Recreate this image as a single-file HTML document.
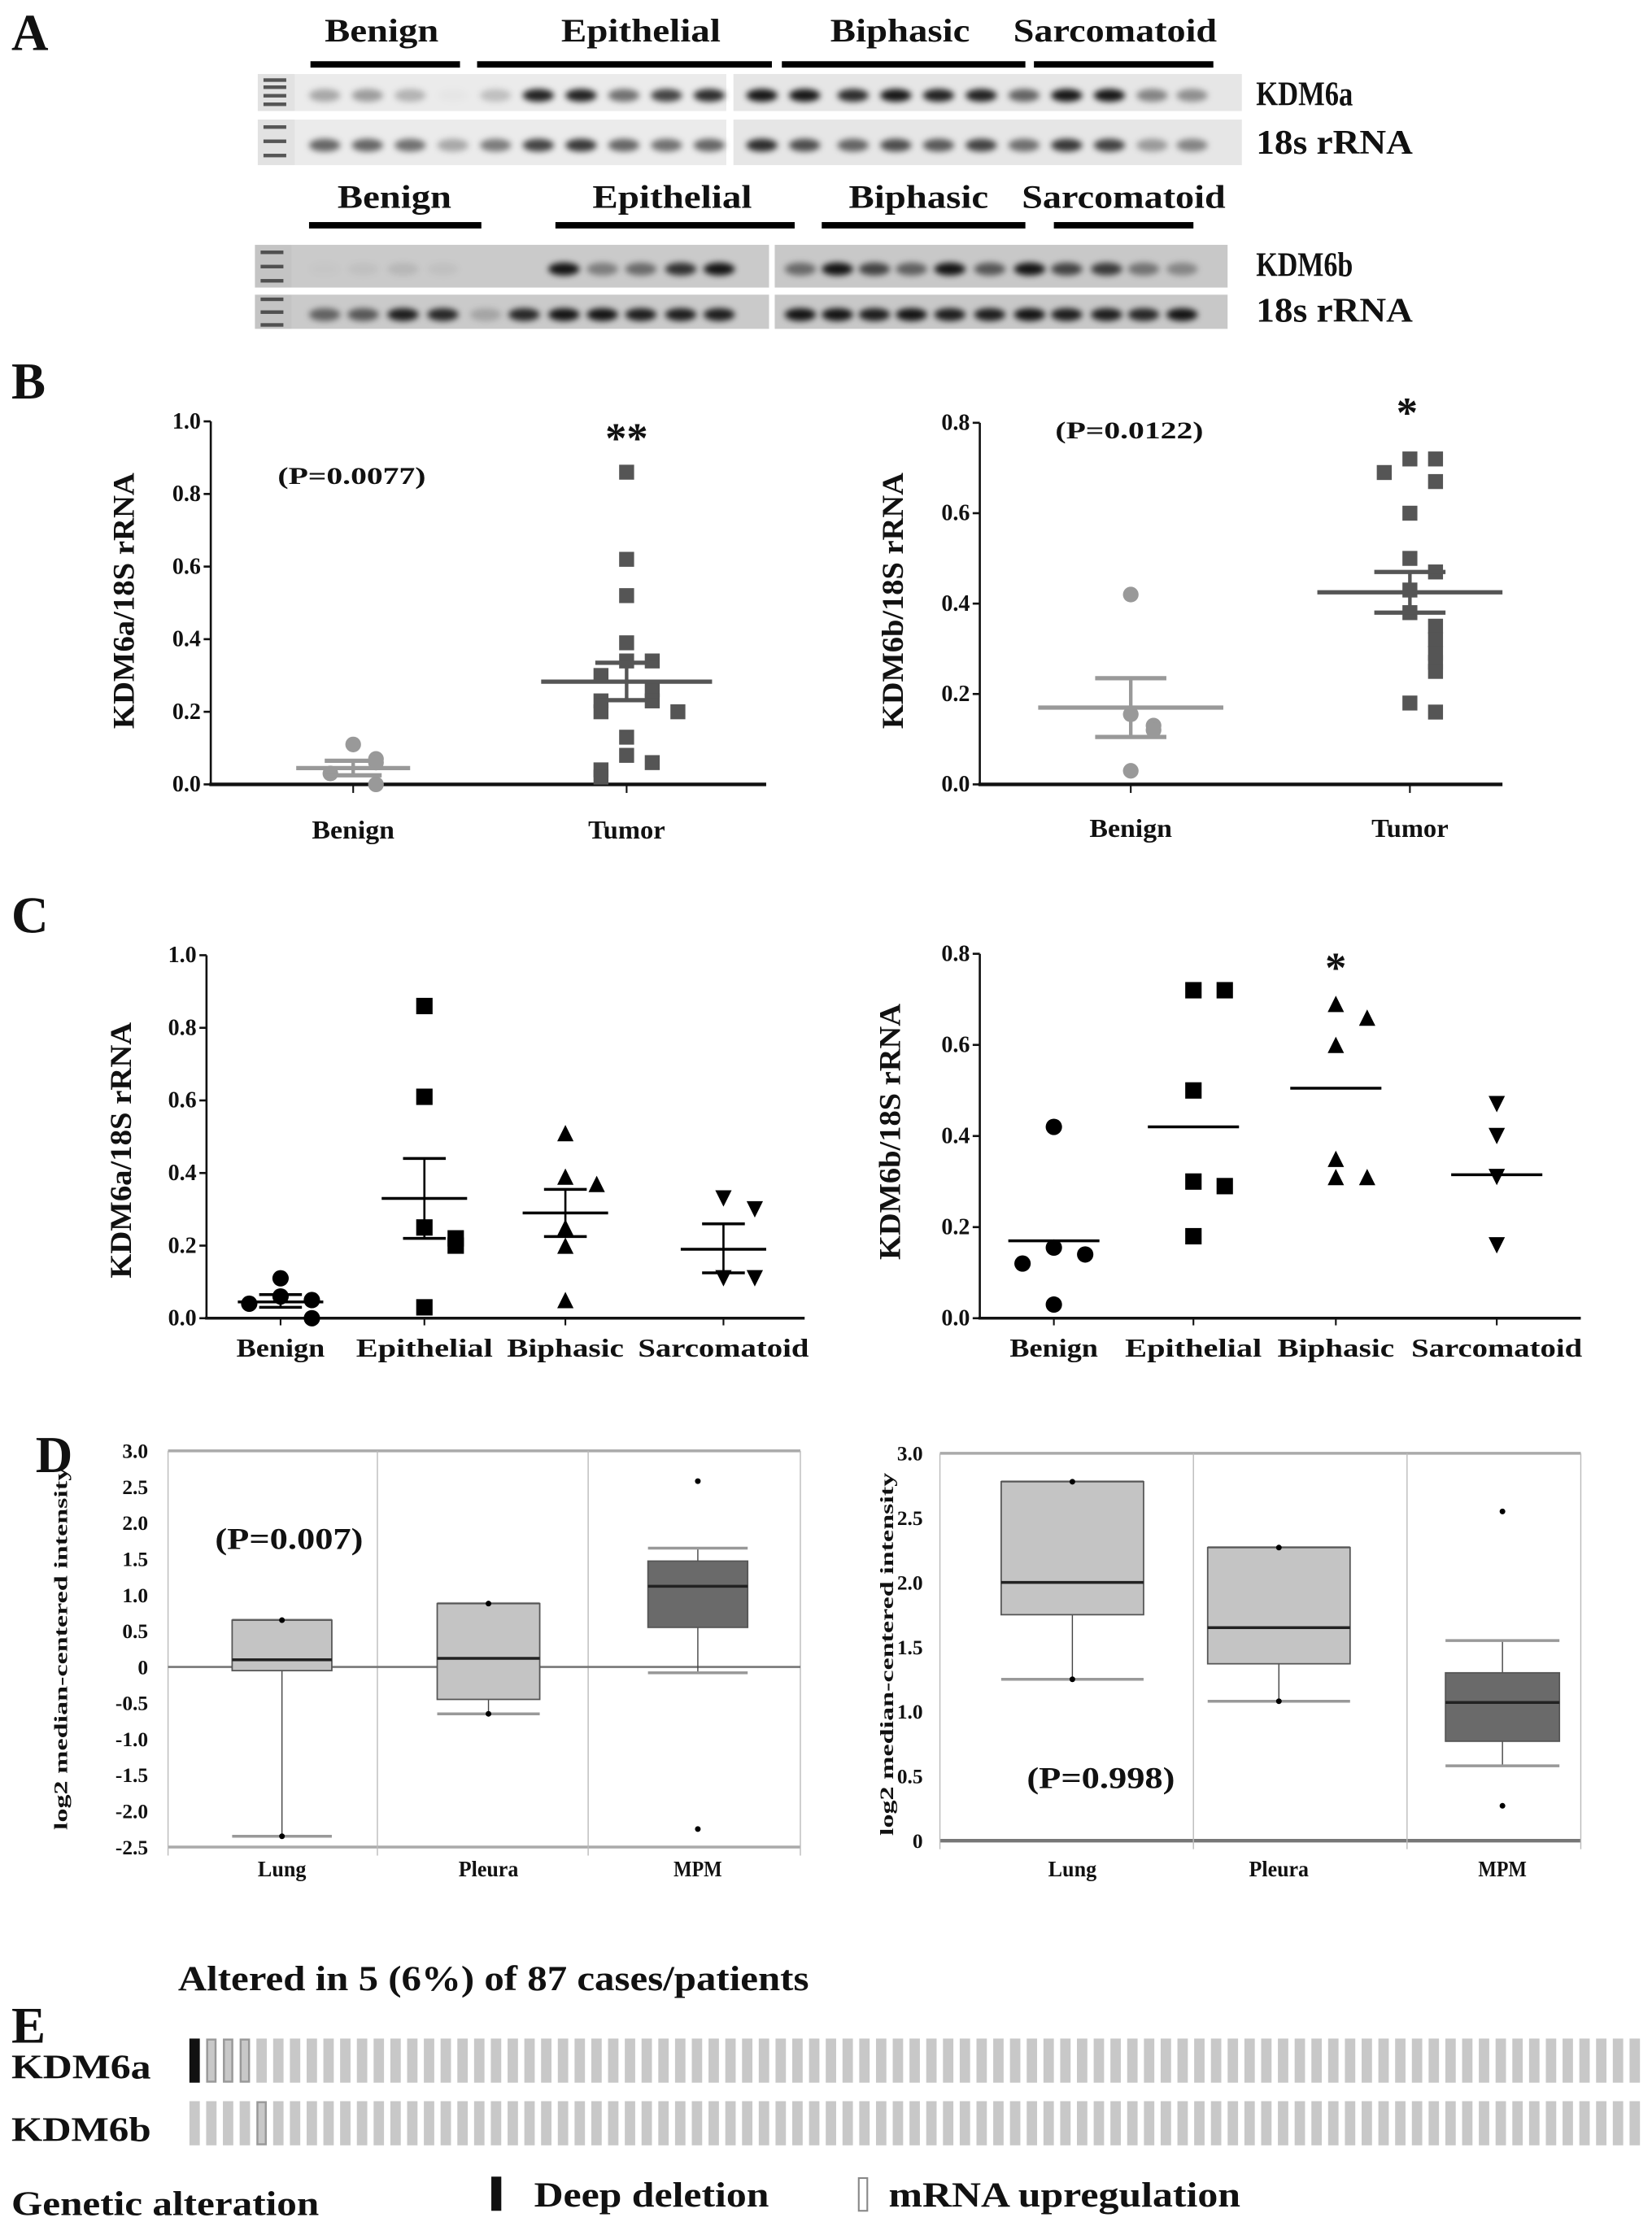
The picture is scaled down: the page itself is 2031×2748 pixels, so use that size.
<!DOCTYPE html>
<html><head><meta charset="utf-8"><style>
html,body{margin:0;padding:0;background:#fff}
svg{display:block}
text{font-family:"Liberation Serif",serif;font-weight:bold;fill:#111}
</style></head><body>
<svg id="fig" xmlns="http://www.w3.org/2000/svg" width="2031" height="2748" viewBox="0 0 1160 1570" preserveAspectRatio="none">
<defs><filter id="blur" x="-50%" y="-100%" width="200%" height="300%"><feGaussianBlur stdDeviation="2.2"/></filter></defs>
</svg>
<script>
// ---------- DATA ----------
const gelA_KDM6a_left=[0.3,0.35,0.25,0.02,0.2,0.9,0.9,0.55,0.75,0.85];
const gelA_KDM6a_right=[0.95,0.95,0.85,0.95,0.9,0.9,0.6,0.95,0.95,0.45,0.4];
const gelA_18s_left=[0.6,0.6,0.55,0.3,0.5,0.75,0.8,0.6,0.55,0.6];
const gelA_18s_right=[0.85,0.7,0.6,0.7,0.65,0.75,0.55,0.8,0.75,0.35,0.45];
const gelB_KDM6b_left=[0.02,0.05,0.1,0.05,0,0,0.95,0.4,0.5,0.8,0.95];
const gelB_KDM6b_right=[0.5,0.95,0.7,0.55,0.95,0.6,0.95,0.7,0.75,0.45,0.35];
const gelB_18s_left=[0.55,0.6,0.9,0.85,0.2,0.85,0.95,0.95,0.9,0.9,0.9];
const gelB_18s_right=[0.95,0.95,0.9,0.95,0.9,0.9,0.95,0.9,0.9,0.85,0.95];
const bTicksA=[0,0.2,0.4,0.6,0.8,1.0];
const bBenignA=[0.11,0.07,0.06,0.03,0.0];
const bTumorA=[0.86,0.62,0.52,0.39,0.34,0.34,0.30,0.26,0.23,0.23,0.20,0.20,0.13,0.08,0.06,0.04,0.02];
const bStatsBenignA=[0.045,0.065,0.025];
const bStatsTumorA=[0.283,0.335,0.232];
const bTicksB=[0,0.2,0.4,0.6,0.8];
const bBenignB=[0.42,0.155,0.13,0.12,0.03];
const bTumorB=[0.72,0.72,0.69,0.67,0.60,0.50,0.47,0.43,0.38,0.35,0.32,0.29,0.27,0.25,0.18,0.16];
const bStatsBenignB=[0.17,0.235,0.105];
const bStatsTumorB=[0.425,0.47,0.38];
const cCats=["Benign","Epithelial","Biphasic","Sarcomatoid"];
const cA_benign=[0.11,0.06,0.05,0.04,0.0];
const cA_epi=[0.86,0.61,0.25,0.22,0.20,0.03];
const cA_bi=[0.51,0.39,0.37,0.25,0.20,0.05];
const cA_sar=[0.33,0.30,0.11,0.11];
const cA_mean=[0.045,0.33,0.29,0.19];
const cA_hi=[0.065,0.44,0.355,0.26];
const cA_lo=[0.03,0.22,0.225,0.125];
const cB_benign=[0.42,0.155,0.14,0.12,0.03];
const cB_epi=[0.72,0.72,0.50,0.30,0.29,0.18];
const cB_bi=[0.69,0.66,0.60,0.35,0.31,0.31];
const cB_sar=[0.47,0.40,0.31,0.16];
const cB_mean=[0.17,0.42,0.505,0.315];
const dCats=["Lung","Pleura","MPM"];
const dTicksA=["3.0","2.5","2.0","1.5","1.0","0.5","0","-0.5","-1.0","-1.5","-2.0","-2.5"];
const dTickValsA=[3,2.5,2,1.5,1,0.5,0,-0.5,-1,-1.5,-2,-2.5];
const dA_q1=[-0.05,-0.45,0.55], dA_med=[0.1,0.12,1.12], dA_q3=[0.65,0.88,1.47], dA_lo=[-2.35,-0.65,-0.08], dA_hi=[0.65,0.88,1.65];
const dA_out=[[0.65,-2.35],[0.88,-0.65],[2.58,-2.25]];
const dTicksB=["3.0","2.5","2.0","1.5","1.0","0.5","0"];
const dTickValsB=[3,2.5,2,1.5,1,0.5,0];
const dB_q1=[1.75,1.37,0.77], dB_med=[2.0,1.65,1.07], dB_q3=[2.78,2.27,1.3], dB_lo=[1.25,1.08,0.58], dB_hi=[2.78,2.27,1.55];
const dB_out=[[2.78,1.25],[2.27,1.08],[2.55,0.27]];
const eKDM6a=[1,2,2,2];
const eKDM6b=[0,0,0,0,2];
const eCases=87;

// ---------- HELPERS ----------
const NS="http://www.w3.org/2000/svg";
const svg=document.getElementById('fig');
function el(tag,attrs,parent){const e=document.createElementNS(NS,tag);for(const k in attrs)e.setAttribute(k,attrs[k]);(parent||svg).appendChild(e);return e;}
function txt(x,y,s,size,anchor,len,g){const t=el('text',{x:x,y:y,'font-size':size,'text-anchor':anchor||'start'},g);if(len){t.setAttribute('textLength',len);t.setAttribute('lengthAdjust','spacingAndGlyphs');}t.textContent=s;return t;}

// ---------- PANEL A ----------
const gA=el('g',{});


let t=txt(8,35,'A',36,'start',26,gA);


function groupLabels(labels,cx,y,lens,bars,by){
  labels.forEach((s,i)=>{const l=txt(cx[i],y,s,23,'middle',lens[i],gA);});
  bars.forEach(b=>{const r=el('rect',{x:b[0],y:by,width:b[1]-b[0],height:4.5,fill:'#000'},gA);});
}
groupLabels(['Benign','Epithelial','Biphasic','Sarcomatoid'],[268,450,632,783],29,[80,112,98,143],[[218,323],[335,542],[549,720],[726,852]],43);
groupLabels(['Benign','Epithelial','Biphasic','Sarcomatoid'],[277,472,645,789],146,[80,112,98,143],[[217,338],[390,558],[577,720],[740,838]],156);
function gel(x0,x1,y0,y1,bg,lanes,vals,name){
  const r=el('rect',{x:x0,y:y0,width:x1-x0,height:y1-y0,fill:bg},gA);
  
  
  const yc=(y0+y1)/2+2;
  vals.forEach((v,i)=>{const b=el('ellipse',{cx:lanes[i],cy:yc,rx:11,ry:4.5,fill:'#000','fill-opacity':Math.min(1,v*0.95),filter:'url(#blur)'},gA);});
}
function ladder(x,y0,y1,bg,ys){const r=el('rect',{x:x,y:y0,width:26,height:y1-y0,fill:bg},gA);ys.forEach(yy=>{const b=el('rect',{x:x+4,y:yy,width:16,height:2.5,fill:'#333','fill-opacity':0.8},gA);});}
const lanesAL=[228,258,288,318,348,378,408,438,468,498], lanesAR=[535,565,599,629,659,689,719,749,779,809,837];
ladder(181,52,78,'#e2e2e2',[55,60,66,72]);
gel(207,510,52,78,'#ebebeb',lanesAL,gelA_KDM6a_left,'kdm6a-gel-left');
gel(515,872,52,78,'#e6e6e6',lanesAR,gelA_KDM6a_right,'kdm6a-gel-right');
ladder(181,84,116,'#e2e2e2',[88,98,108]);
gel(207,510,84,116,'#ebebeb',lanesAL,gelA_18s_left,'18s-gel-a-left');
gel(515,872,84,116,'#e6e6e6',lanesAR,gelA_18s_right,'18s-gel-a-right');
const lanesBR=[562,588,614,640,667,695,723,749,777,803,830];
const lanesBL=[228,255,283,311,341,368,396,423,450,478,505];
ladder(179,172,202,'#c4c4c4',[176,186,196]);
gel(205,540,172,202,'#cacaca',lanesBL,gelB_KDM6b_left,'kdm6b-gel-left');
gel(544,862,172,202,'#c8c8c8',lanesBR,gelB_KDM6b_right,'kdm6b-gel-right');
ladder(179,207,231,'#c4c4c4',[209,218,227]);
gel(205,540,207,231,'#cacaca',lanesBL,gelB_18s_left,'18s-gel-b-left');
gel(544,862,207,231,'#c8c8c8',lanesBR,gelB_18s_right,'18s-gel-b-right');
[['KDM6a',74,68],['18s rRNA',108,110],['KDM6b',194,68],['18s rRNA',226,110]].forEach(a=>{const l=txt(882,a[1],a[0],24,'start',a[2],gA);});

// ---------- SCATTER HELPERS ----------
function axisY(g,x,yfn,ticks,fmt,size){
  const top=yfn(ticks[ticks.length-1]),bot=yfn(ticks[0]);
  const a=el('line',{x1:x,y1:top,x2:x,y2:bot,stroke:'#111','stroke-width':1.5},g);
  
  ticks.forEach(v=>{el('line',{x1:x-5,y1:yfn(v),x2:x,y2:yfn(v),stroke:'#111','stroke-width':1.5},g);const l=txt(x-7,yfn(v)+5,fmt(v),size,'end',null,g);});
}
function marker(g,shape,x,y,s,fill){
  let m;
  if(shape==='circle')m=el('circle',{cx:x,cy:y,r:s/2,fill:fill},g);
  else if(shape==='square')m=el('rect',{x:x-s/2,y:y-s/2,width:s,height:s,fill:fill},g);
  else if(shape==='tri')m=el('polygon',{points:`${x},${y-s/2} ${x-s/2},${y+s/2} ${x+s/2},${y+s/2}`,fill:fill},g);
  else m=el('polygon',{points:`${x},${y+s/2} ${x-s/2},${y-s/2} ${x+s/2},${y-s/2}`,fill:fill},g);
  
  
}
function scatter(g,vals,cx,yfn,shape,s,fill,step){
  const placed=[];
  vals.forEach(v=>{
    const near=placed.filter(p=>Math.abs(p-yfn(v))<s).length;
    const off=near===0?0:(near%2?1:-1)*Math.ceil(near/2)*step;
    placed.push(yfn(v));
    marker(g,shape,cx+off,yfn(v),s,fill);
  });
}
function meanSem(g,cx,yfn,m,hi,lo,w,ws,col,sw){
  const a=el('line',{x1:cx-w,y1:yfn(m),x2:cx+w,y2:yfn(m),stroke:col,'stroke-width':sw},g);
  
  if(hi!=null){
    el('line',{x1:cx,y1:yfn(hi),x2:cx,y2:yfn(lo),stroke:col,'stroke-width':sw-0.5},g);
    [hi,lo].forEach(v=>{const e=el('line',{x1:cx-ws,y1:yfn(v),x2:cx+ws,y2:yfn(v),stroke:col,'stroke-width':sw},g);});
  }
}
function yTitle(g,x,y,s,size,len){const l=el('text',{x:0,y:0,'font-size':size,'text-anchor':'middle',transform:`translate(${x},${y}) rotate(-90)`,textLength:len,lengthAdjust:'spacingAndGlyphs'},g);l.textContent=s;}
function xLabel(g,x,y,s,size,len){const l=txt(x,y,s,size,'middle',len,g);}

// ---------- PANEL B ----------
const gB=el('g',{});


t=txt(8,280,'B',36,'start',24,gB);


{
  const yA=v=>551-v*255, yB=v=>551-v*317.5;
  const fmt=v=>v.toFixed(1);
  axisY(gB,148,yA,bTicksA,fmt,16);
  let ax=el('line',{x1:147,y1:551,x2:538,y2:551,stroke:'#111','stroke-width':2.5},gB);
  [248,440].forEach(x=>el('line',{x1:x,y1:551,x2:x,y2:557,stroke:'#111','stroke-width':1.2},gB));
  xLabel(gB,248,589,'Benign',18,58);xLabel(gB,440,589,'Tumor',18,54);
  yTitle(gB,94,422,'KDM6a/18S rRNA',21,180);
  t=txt(247,340,'(P=0.0077)',17,'middle',104,gB);
  t=txt(440,318,'**',30,'middle',null,gB);
  scatter(gB,bBenignA,248,yA,'circle',11,'#999',16);
  scatter(gB,bTumorA,440,yA,'square',10.5,'#555',18);
  meanSem(gB,248,yA,bStatsBenignA[0],bStatsBenignA[1],bStatsBenignA[2],40,20,'#999',3);
  meanSem(gB,440,yA,bStatsTumorA[0],bStatsTumorA[1],bStatsTumorA[2],60,22,'#555',3);

  axisY(gB,688,yB,bTicksB,fmt,16);
  ax=el('line',{x1:687,y1:551,x2:1055,y2:551,stroke:'#111','stroke-width':2.5},gB);
  [794,990].forEach(x=>el('line',{x1:x,y1:551,x2:x,y2:557,stroke:'#111','stroke-width':1.2},gB));
  xLabel(gB,794,588,'Benign',18,58);xLabel(gB,990,588,'Tumor',18,54);
  yTitle(gB,634,422,'KDM6b/18S rRNA',21,180);
  t=txt(793,308,'(P=0.0122)',17,'middle',104,gB);
  t=txt(988,300,'*',30,'middle',null,gB);
  scatter(gB,bBenignB,794,yB,'circle',11,'#999',16);
  scatter(gB,bTumorB,990,yB,'square',10.5,'#555',18);
  meanSem(gB,794,yB,bStatsBenignB[0],bStatsBenignB[1],bStatsBenignB[2],65,25,'#999',3);
  meanSem(gB,990,yB,bStatsTumorB[0],bStatsTumorB[1],bStatsTumorB[2],65,25,'#555',3);
}

// ---------- PANEL C ----------
const gC=el('g',{});


t=txt(8,655,'C',36,'start',26,gC);


{
  const yA=v=>926-v*255, yB=v=>926-v*320;
  const fmt=v=>v.toFixed(1);
  const shapes=['circle','square','tri','inv'];
  const xsA=[197,298,397,508], xsB=[740,838,938,1051];
  axisY(gC,145,yA,bTicksA,fmt,16);
  let ax=el('line',{x1:144,y1:926,x2:565,y2:926,stroke:'#111','stroke-width':2},gC);
  const lensA=[62,96,82,120];
  cCats.forEach((c,i)=>{el('line',{x1:xsA[i],y1:926,x2:xsA[i],y2:931,stroke:'#111','stroke-width':1.2},gC);xLabel(gC,xsA[i],953,c,18,lensA[i]);});
  yTitle(gC,92,808,'KDM6a/18S rRNA',21,180);
  [cA_benign,cA_epi,cA_bi,cA_sar].forEach((vals,i)=>scatter(gC,vals,xsA[i],yA,shapes[i],11.5,'#000',22));
  cCats.forEach((c,i)=>meanSem(gC,xsA[i],yA,cA_mean[i],cA_hi[i],cA_lo[i],30,15,'#000',2));

  axisY(gC,688,yB,bTicksB,fmt,16);
  ax=el('line',{x1:687,y1:926,x2:1110,y2:926,stroke:'#111','stroke-width':2},gC);
  cCats.forEach((c,i)=>{el('line',{x1:xsB[i],y1:926,x2:xsB[i],y2:931,stroke:'#111','stroke-width':1.2},gC);xLabel(gC,xsB[i],953,c,18,lensA[i]);});
  yTitle(gC,632,795,'KDM6b/18S rRNA',21,180);
  t=txt(938,690,'*',30,'middle',null,gC);
  [cB_benign,cB_epi,cB_bi,cB_sar].forEach((vals,i)=>scatter(gC,vals,xsB[i],yB,shapes[i],11.5,'#000',22));
  cCats.forEach((c,i)=>meanSem(gC,xsB[i],yB,cB_mean[i],null,null,32,0,'#000',2));
}

// ---------- PANEL D ----------
const gD=el('g',{});


t=txt(25,1034,'D',36,'start',26,gD);


function boxPanel(x0,x1,yfn,ticks,tickVals,dividers,centers,widths,q1,med,q3,lo,hi,outs,zeroLine,labX){
  el('line',{x1:x0,y1:yfn(tickVals[0]),x2:x1,y2:yfn(tickVals[0]),stroke:'#aaa','stroke-width':2},gD);
  const bl=el('line',{x1:x0,y1:yfn(tickVals[tickVals.length-1]),x2:x1,y2:yfn(tickVals[tickVals.length-1]),stroke:zeroLine?'#aaa':'#777','stroke-width':zeroLine?2:2.5},gD);
  
  [x0].concat(dividers).concat([x1]).forEach(x=>el('line',{x1:x,y1:yfn(tickVals[0]),x2:x,y2:yfn(tickVals[tickVals.length-1])+6,stroke:'#bbb','stroke-width':0.8},gD));
  if(zeroLine){const z=el('line',{x1:x0,y1:yfn(0),x2:x1,y2:yfn(0),stroke:'#777','stroke-width':1.5},gD);}
  ticks.forEach((s,i)=>{const l=txt(labX,yfn(tickVals[i])+5,s,14.5,'end',null,gD);});
  centers.forEach((cx,i)=>{
    const w=widths[i];
    const dark=i===2;
    el('line',{x1:cx,y1:yfn(hi[i]),x2:cx,y2:yfn(lo[i]),stroke:'#444','stroke-width':0.8},gD);
    [hi[i],lo[i]].forEach(v=>el('line',{x1:cx-w/2,y1:yfn(v),x2:cx+w/2,y2:yfn(v),stroke:'#999','stroke-width':2},gD));
    const b=el('rect',{x:cx-w/2,y:yfn(q3[i]),width:w,height:yfn(q1[i])-yfn(q3[i]),fill:dark?'#6a6a6a':'#c4c4c4',stroke:'#555','stroke-width':1},gD);
    
    const m=el('line',{x1:cx-w/2,y1:yfn(med[i]),x2:cx+w/2,y2:yfn(med[i]),stroke:'#222','stroke-width':2},gD);
    
    outs[i].forEach(v=>{const o=el('circle',{cx:cx,cy:yfn(v),r:2,fill:'#000'},gD);});
    xLabel(gD,cx,1318,dCats[i],15.5,i===1?42:34);
  });
}
{
  const yA=v=>1171-v*50.6;
  boxPanel(118,562,yA,dTicksA,dTickValsA,[265,413],[198,343,490],[70,72,70],dA_q1,dA_med,dA_q3,dA_lo,dA_hi,dA_out,true,104);
  yTitle(gD,47,1158,'log2 median-centered intensity',13.5,255);
  t=txt(203,1088,'(P=0.007)',21,'middle',104,gD);
  const yB=v=>1293-v*90.7;
  boxPanel(660,1110,yB,dTicksB,dTickValsB,[838,988],[753,898,1055],[100,100,80],dB_q1,dB_med,dB_q3,dB_lo,dB_hi,dB_out,false,648);
  yTitle(gD,627,1162,'log2 median-centered intensity',13.5,255);
  t=txt(773,1256,'(P=0.998)',21,'middle',104,gD);
}

// ---------- PANEL E ----------
const gE=el('g',{});


t=txt(125,1398,'Altered in 5 (6%) of 87 cases/patients',25,'start',443,gE);


t=txt(8,1435,'E',36,'start',24,gE);


t=txt(8,1460,'KDM6a',24,'start',98,gE);


t=txt(8,1504,'KDM6b',24,'start',98,gE);


function track(alts,y0,h,name){
  const pitch=(1156-133)/eCases;
  for(let i=0;i<eCases;i++){
    const a=alts[i]||0;const x=133+i*pitch;
    let r;
    if(a===1)r=el('rect',{x:x,y:y0,width:7.3,height:h,fill:'#111'},gE);
    else if(a===2)r=el('rect',{x:x+0.7,y:y0+0.7,width:5.9,height:h-1.4,fill:'#c8c8c8',stroke:'#999','stroke-width':1.4},gE);
    else r=el('rect',{x:x,y:y0,width:7.3,height:h,fill:'#c8c8c8'},gE);
    
    
  }
}
track(eKDM6a,1432,31,'kdm6a');
track(eKDM6b,1476,31,'kdm6b');
t=txt(8,1556,'Genetic alteration',24,'start',216,gE);


let lg=el('rect',{x:345,y:1529,width:7,height:24,fill:'#111'},gE);


t=txt(375,1550,'Deep deletion',25,'start',165,gE);


lg=el('rect',{x:603,y:1530,width:6,height:23,fill:'#fff',stroke:'#888','stroke-width':1.2},gE);


t=txt(624,1550,'mRNA upregulation',25,'start',247,gE);


</script>
</body></html>
